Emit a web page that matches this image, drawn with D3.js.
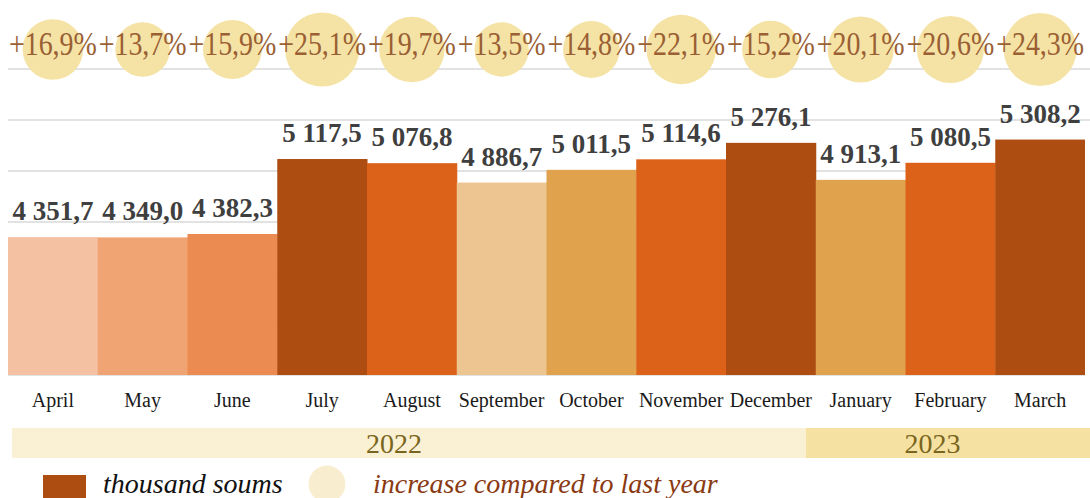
<!DOCTYPE html>
<html>
<head>
<meta charset="utf-8">
<script src="https://cdn.jsdelivr.net/npm/d3@7"></script>
<style>
  body { margin: 0; background: #fff; }
  svg { display: block; }
</style>
</head>
<body>
<svg id="chart" width="1090" height="498"></svg>
<script>
var months = ["April", "May", "June", "July", "August", "September", "October",
              "November", "December", "January", "February", "March"];
var yearOf = ["2022", "2022", "2022", "2022", "2022", "2022", "2022", "2022", "2022",
              "2023", "2023", "2023"];
var incomes = [4351.7, 4349.0, 4382.3, 5117.5, 5076.8, 4886.7, 5011.5,
               5114.6, 5276.1, 4913.1, 5080.5, 5308.2];
var growth = [16.9, 13.7, 15.9, 25.1, 19.7, 13.5, 14.8, 22.1, 15.2, 20.1, 20.6, 24.3];
var gridVals = [3000, 3500, 4000, 4500, 5000, 5500, 6000];
var years = ["2022", "2023"];

var barCols = ["#f4c1a2", "#f0a373", "#eb8b51", "#ad4d12", "#dd6219", "#ecc590",
               "#e0a24c", "#dd6219", "#ad4d12", "#e0a24c", "#dd6219", "#ad4d12"];
var yearCols = ["#faf0d3", "#f5e2a3"];
var bubbleCol = "#f5e3a6";
var pctTxtCol = "#9a5f33";
var valTxtCol = "#3f3f3f";
var gridCol = "#d9d9d9";

var W = 1090, H = 498;
var PLOT_L = 8, PLOT_R = 1085;
var BASE_Y = 375, TOP_Y = 69;

var locale = d3.formatLocale({decimal: ",", thousands: " ", grouping: [3], currency: ["", ""]});
var fmtVal = locale.format(",.1f");
var fmtPct = function(v) { return "+" + locale.format(".1f")(v) + "%"; };

var svg = d3.select("#chart");

var x = d3.scaleBand()
          .domain(months)
          .range([PLOT_L, PLOT_R])
          .padding(0);

var y = d3.scaleLinear()
          .domain([3000, 6000])
          .range([BASE_Y, TOP_Y]);

var r = d3.scaleSqrt()
          .domain([0, d3.max(growth)])
          .range([0, 37]);

// gridlines
svg.append("g")
   .selectAll("line")
   .data(gridVals)
   .enter()
   .append("line")
   .attr("x1", PLOT_L)
   .attr("x2", d => d >= 5500 ? W : PLOT_R)
   .attr("y1", d => y(d))
   .attr("y2", d => y(d))
   .style("stroke", gridCol)
   .style("stroke-width", 1.5);

// bars
svg.append("g")
   .selectAll("rect")
   .data(incomes)
   .enter()
   .append("rect")
   .attr("x", (d, i) => x(months[i]))
   .attr("width", (d, i) => x.bandwidth() + (i < months.length - 1 ? 0.5 : 0))
   .attr("y", d => y(d))
   .attr("height", d => BASE_Y - y(d))
   .style("fill", (d, i) => barCols[i]);

// value labels
svg.append("g")
   .selectAll("text")
   .data(incomes)
   .enter()
   .append("text")
   .attr("x", (d, i) => x(months[i]) + x.bandwidth() / 2)
   .attr("y", d => y(d) - 17)
   .attr("text-anchor", "middle")
   .style("font-family", "'Liberation Serif', 'Times New Roman', serif")
   .style("font-weight", "bold")
   .style("font-size", "27px")
   .style("fill", valTxtCol)
   .text(d => fmtVal(d));

// growth bubbles
svg.append("g")
   .selectAll("circle")
   .data(growth)
   .enter()
   .append("circle")
   .attr("cx", (d, i) => x(months[i]) + x.bandwidth() / 2)
   .attr("cy", 49.5)
   .attr("r", d => r(d))
   .style("fill", bubbleCol);

svg.append("g")
   .selectAll("text")
   .data(growth)
   .enter()
   .append("text")
   .attr("x", (d, i) => x(months[i]) + x.bandwidth() / 2)
   .attr("y", 55)
   .attr("text-anchor", "middle")
   .attr("textLength", 88)
   .attr("lengthAdjust", "spacingAndGlyphs")
   .style("font-family", "'Liberation Serif', 'Times New Roman', serif")
   .style("font-size", "34px")
   .style("fill", pctTxtCol)
   .text(d => fmtPct(d));

// month axis
var xAxis = d3.axisBottom(x).tickSize(0).tickPadding(0);
var gx = svg.append("g")
   .attr("transform", "translate(0," + (BASE_Y + 32) + ")")
   .call(xAxis);
gx.select(".domain").remove();
gx.selectAll("text")
  .attr("dy", 0)
  .style("font-family", "'Liberation Serif', 'Times New Roman', serif")
  .style("font-size", "20px")
  .style("fill", "#1a1a1a");

// year strip
var yearSpans = years.map(function(yr) {
    var ms = months.filter((m, i) => yearOf[i] == yr);
    return { year: yr, first: ms[0], last: ms[ms.length - 1] };
});
var STRIP_L = 12, STRIP_T = 428, STRIP_H = 30;

var strip = svg.append("g");
strip.selectAll("rect")
     .data(yearSpans)
     .enter()
     .append("rect")
     .attr("x", (d, i) => i == 0 ? STRIP_L : x(d.first) - 10)
     .attr("width", (d, i) => (i == yearSpans.length - 1 ? W : x(yearSpans[i + 1].first) - 10)
                              - (i == 0 ? STRIP_L : x(d.first) - 10))
     .attr("y", STRIP_T)
     .attr("height", STRIP_H)
     .style("fill", (d, i) => yearCols[i]);

strip.selectAll("text")
     .data(yearSpans)
     .enter()
     .append("text")
     .attr("x", d => (x(d.first) + x(d.last) + x.bandwidth()) / 2 - 18)
     .attr("y", STRIP_T + 25)
     .attr("text-anchor", "middle")
     .style("font-family", "'Liberation Serif', 'Times New Roman', serif")
     .style("font-size", "28px")
     .style("fill", "#7a6520")
     .text(d => d.year);

// legend
var leg = svg.append("g");
leg.append("rect")
   .attr("x", 43)
   .attr("y", 475)
   .attr("width", 43)
   .attr("height", 30)
   .style("fill", barCols[3]);
leg.append("text")
   .attr("x", 103)
   .attr("y", 493)
   .style("font-family", "'Liberation Serif', 'Times New Roman', serif")
   .style("font-style", "italic")
   .style("font-size", "28px")
   .style("fill", "#111")
   .text("thousand soums");
leg.append("circle")
   .attr("cx", 327)
   .attr("cy", 484)
   .attr("r", 18.5)
   .style("fill", "#f8eecf");
leg.append("text")
   .attr("x", 373)
   .attr("y", 493)
   .style("font-family", "'Liberation Serif', 'Times New Roman', serif")
   .style("font-style", "italic")
   .style("font-size", "28px")
   .style("fill", "#8a3a12")
   .text("increase compared to last year");
</script>
</body>
</html>
